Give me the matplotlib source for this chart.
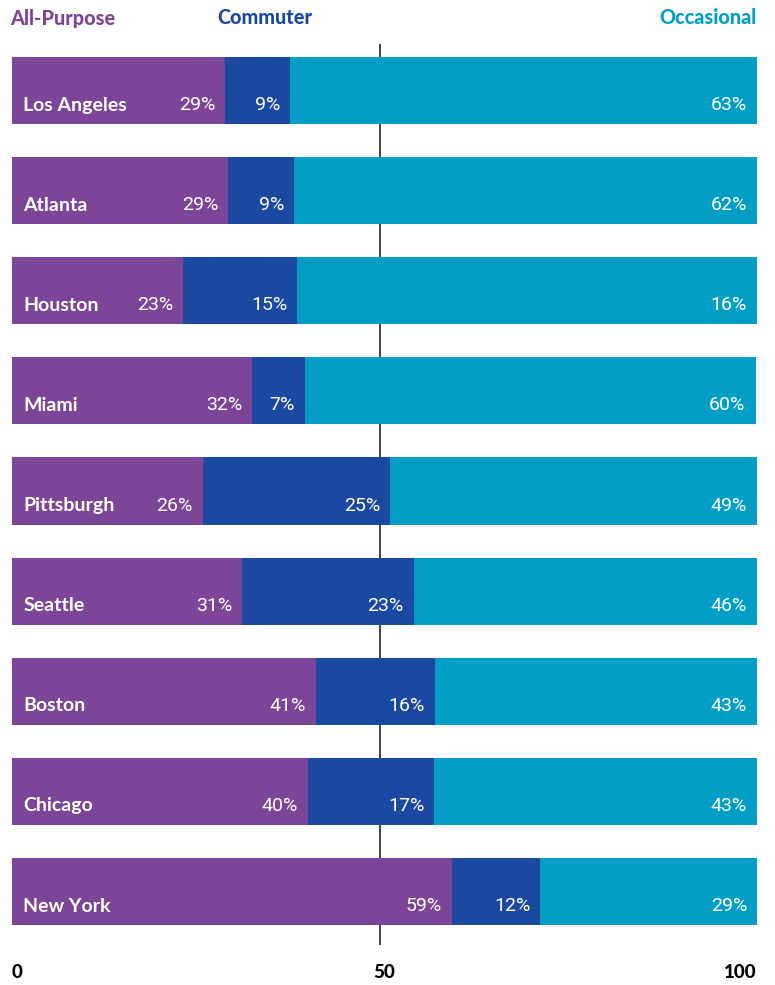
import matplotlib
matplotlib.use("Agg")
import matplotlib.pyplot as plt

cities = ["Los Angeles", "Atlanta", "Houston", "Miami", "Pittsburgh",
          "Seattle", "Boston", "Chicago", "New York"]
all_purpose = [28.6, 29.0, 23.0, 32.2, 25.6, 30.9, 40.8, 39.7, 59.1]
commuter = [8.7, 8.9, 15.3, 7.1, 25.2, 23.0, 16.0, 17.0, 11.8]
occasional = [62.7, 62.1, 61.7, 60.5, 49.2, 46.1, 43.2, 43.3, 29.1]
all_labels = ["29%", "29%", "23%", "32%", "26%", "31%", "41%", "40%", "59%"]
com_labels = ["9%", "9%", "15%", "7%", "25%", "23%", "16%", "17%", "12%"]
occ_labels = ["63%", "62%", "16%", "60%", "49%", "46%", "43%", "43%", "29%"]
series_names = ["All-Purpose", "Commuter", "Occasional"]
xticks = [0, 50, 100]

C_ALL = "#7C4598"
C_COM = "#1B48A0"
C_OCC = "#029EC5"

plt.rcParams['font.family'] = ['Lato', 'DejaVu Sans']

W, H = 775, 985
fig = plt.figure(figsize=(W / 100, H / 100), dpi=100)
ax_left, ax_right = 12, 757
ax_top, ax_bot = 44, 945
ax = fig.add_axes([ax_left / W, 1 - ax_bot / H, (ax_right - ax_left) / W, (ax_bot - ax_top) / H])
ax.set_xlim(0, 100)
ax.set_ylim(8.534, -0.4645)
ax.axis("off")

# divider line (drawn slightly left of the 50 mark, as in the original)
ax.axvline(49.4, color="#222222", lw=1.2, zorder=0)

ys = list(range(len(cities)))
h = 0.67
ax.barh(ys, all_purpose, height=h, color=C_ALL, zorder=2)
left2 = list(all_purpose)
ax.barh(ys, commuter, left=left2, height=h, color=C_COM, zorder=2)
left3 = [a + c for a, c in zip(all_purpose, commuter)]
ax.barh(ys, occasional, left=left3, height=h, color=C_OCC, zorder=2)

pad = 10 / 745 * 100
dy = 0.145
for i, y in enumerate(ys):
    ax.text(1.5, y + dy, cities[i], color="white", fontsize=14, fontweight="bold",
            ha="left", va="center", zorder=3)
    e1 = all_purpose[i]
    e2 = e1 + commuter[i]
    e3 = min(e2 + occasional[i], 100)
    for e, lab in ((e1, all_labels[i]), (e2, com_labels[i]), (e3, occ_labels[i])):
        ax.text(e - pad, y + dy, lab, color="white", fontsize=14,
                family=["Roboto", "DejaVu Sans"], fontweight="normal",
                ha="right", va="center", zorder=3)

# tick labels below
tick_y = 1 - 972 / H
for t, ha in zip(xticks, ["left", "center", "right"]):
    xf = (ax_left + t / 100 * (ax_right - ax_left)) / W
    fig.text(xf, tick_y, str(t), ha=ha, va="center", fontsize=13.5, fontweight="black", color="black")

# header legend
hy = 1 - 18 / H
fs_h = 14.3
fig.text(10 / W, hy, series_names[0], ha="left", va="center", fontsize=fs_h, fontweight="black", color=C_ALL)
fig.text(265 / W, hy, series_names[1], ha="center", va="center", fontsize=fs_h, fontweight="black", color=C_COM)
fig.text(757 / W, hy, series_names[2], ha="right", va="center", fontsize=fs_h, fontweight="black", color=C_OCC)

fig.savefig("out.png", dpi=100)
